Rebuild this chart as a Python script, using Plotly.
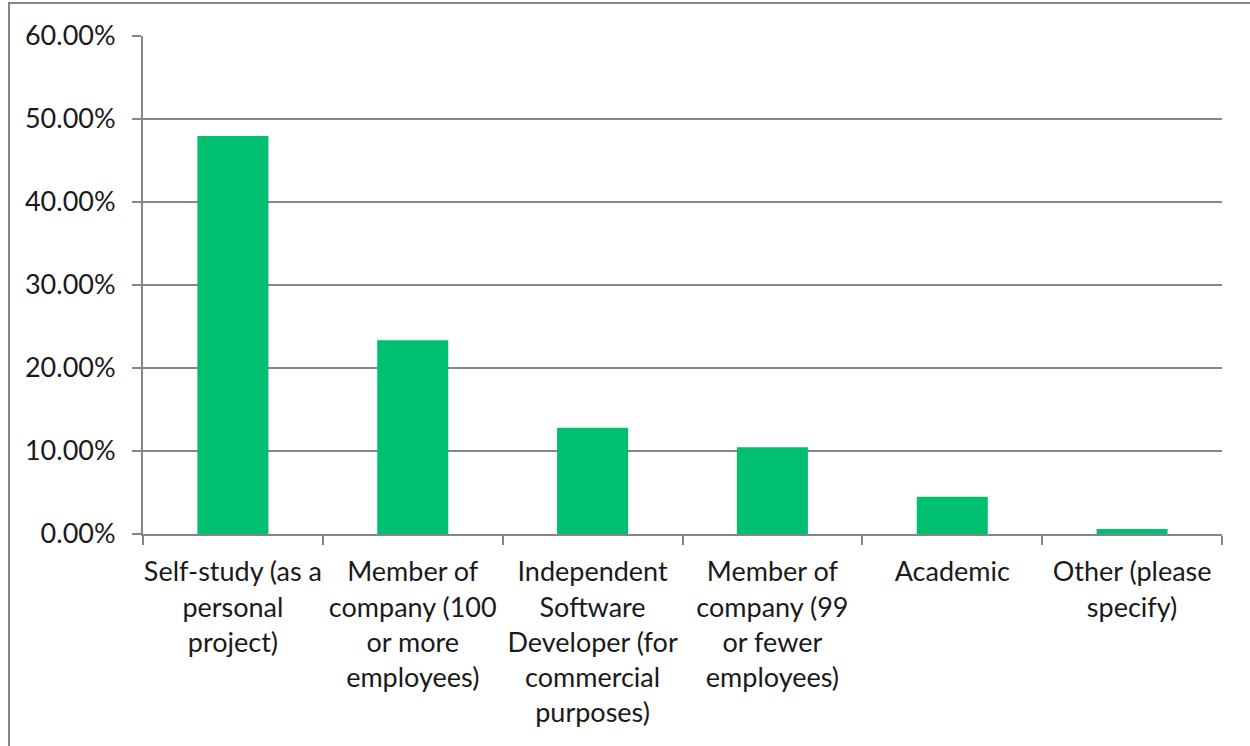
import plotly.graph_objects as go

categories = [
    "Self-study (as a<br>personal<br>project)",
    "Member of<br>company (100<br>or more<br>employees)",
    "Independent<br>Software<br>Developer (for<br>commercial<br>purposes)",
    "Member of<br>company (99<br>or fewer<br>employees)",
    "Academic",
    "Other (please<br>specify)",
]
values = [0.4795, 0.2334, 0.1281, 0.1044, 0.0450, 0.0060]
y_ticks = [0, 0.1, 0.2, 0.3, 0.4, 0.5, 0.6]
y_tick_labels = ["0.00%", "10.00%", "20.00%", "30.00%", "40.00%", "50.00%", "60.00%"]

BAR = "#00BF6F"
GRID = "#868686"
FONT = dict(family="Lato, 'Open Sans', sans-serif", size=27, color="#1a1a1a")

W, H = 1250, 746
L, R, T, B = 143, 28, 36, 212
pw = W - L - R
ph = H - T - B

fig = go.Figure(go.Bar(x=categories, y=values, marker=dict(color=BAR, line=dict(width=0)),
                       width=0.395, hoverinfo="skip"))

fig.update_layout(
    width=W, height=H,
    margin=dict(l=L, r=R, t=T, b=B, pad=0, autoexpand=False),
    paper_bgcolor="white", plot_bgcolor="white",
    font=FONT, showlegend=False,
    xaxis=dict(showgrid=False, showline=True, linecolor=GRID, linewidth=2,
               ticks="outside", tickson="boundaries", ticklen=9, tickwidth=2, tickcolor=GRID,
               tickfont=FONT, ticklabelstandoff=13, range=[-0.5, 5.5],
               tickangle=0, automargin=False),
    yaxis=dict(range=[0, 0.6], tickvals=y_ticks, ticktext=y_tick_labels,
               showgrid=True, gridcolor=GRID, gridwidth=2,
               showline=True, linecolor=GRID, linewidth=2, zeroline=False,
               ticks="outside", ticklen=9, tickwidth=2, tickcolor=GRID,
               tickfont=FONT, ticklabelstandoff=11, automargin=False),
)

# outer chart-area border (left and top edges visible)
x0 = (9 - L) / pw
y1 = (H - B - 3) / ph
fig.add_shape(type="rect", xref="paper", yref="paper", x0=x0, x1=1.3, y0=-1.0, y1=y1,
              line=dict(color=GRID, width=2), fillcolor="rgba(0,0,0,0)", layer="below")

fig.write_html("out.html", config={"displayModeBar": False},
               post_script="document.body.style.margin='0px';")
